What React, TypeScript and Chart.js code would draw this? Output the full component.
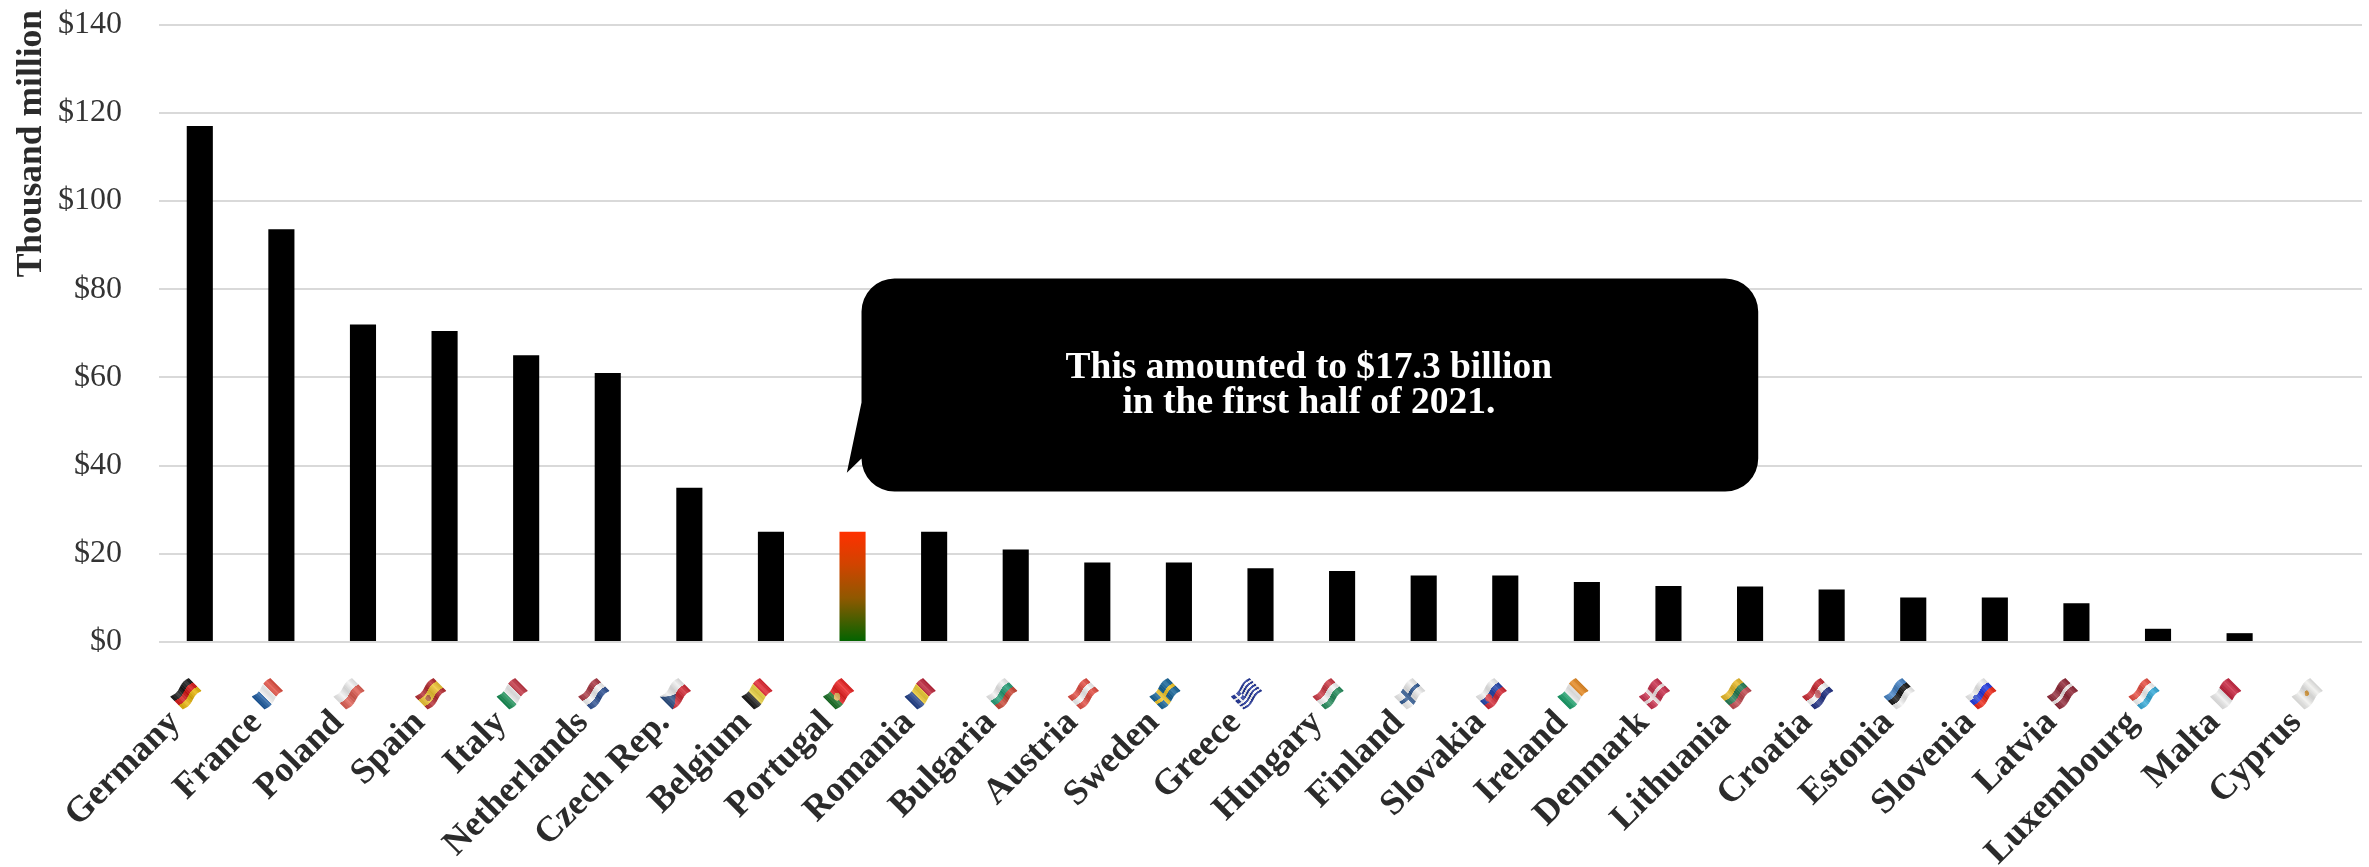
import React, { useEffect, useRef } from "react";
import { Chart, registerables } from "chart.js";

Chart.register(...registerables);

const countries = [
  "Germany", "France", "Poland", "Spain", "Italy", "Netherlands", "Czech Rep.", "Belgium", "Portugal",
  "Romania", "Bulgaria", "Austria", "Sweden", "Greece", "Hungary", "Finland", "Slovakia", "Ireland",
  "Denmark", "Lithuania", "Croatia", "Estonia", "Slovenia", "Latvia", "Luxembourg", "Malta", "Cyprus",
];
const spending = [
  117, 93.6, 72, 70.5, 65, 61, 35, 25, 25,
  25, 21, 18, 18, 16.7, 16.1, 15.1, 15.1, 13.6,
  12.7, 12.6, 11.9, 10.1, 10.1, 8.8, 3, 2, 0,
];
const highlighted = "Portugal";
const calloutLines = ["This amounted to $17.3 billion", "in the first half of 2021."];
const axisTitle = "Thousand million";

const SERIF = '"Liberation Serif", serif';

type Flag = { h?: string[]; v?: string[]; extra?: (c: CanvasRenderingContext2D, w: number, h: number) => void };

function cross(bg: string, fg: string) {
  return (c: CanvasRenderingContext2D, w: number, h: number) => {
    c.fillStyle = bg;
    c.fillRect(0, 0, w, h);
    c.fillStyle = fg;
    c.fillRect(w * 0.3, 0, w * 0.15, h);
    c.fillRect(0, h * 0.4, w, h * 0.2);
  };
}

function badge(color: string, px: number, py: number, r: number) {
  return (c: CanvasRenderingContext2D, w: number, h: number) => {
    c.fillStyle = color;
    c.beginPath();
    c.arc(w * px, h * py, h * r, 0, Math.PI * 2);
    c.fill();
  };
}

const flagDesigns: Record<string, Flag> = {
  Germany: { h: ["#111111", "#d8100f", "#e8b400"] },
  France: { v: ["#12549c", "#ffffff", "#e24a3c"] },
  Poland: { h: ["#f2f2f2", "#e05a4e"] },
  Spain: { h: ["#b5242a", "#eec22c", "#eec22c", "#b5242a"], extra: badge("#a8502a", 0.32, 0.5, 0.16) },
  Italy: { v: ["#0f8a4e", "#f5f5f5", "#c1303f"] },
  Netherlands: { h: ["#a8323e", "#f5f5f5", "#274b8f"] },
  "Czech Rep.": {
    h: ["#eeeeee", "#d0232f"],
    extra: (c, w, h) => {
      c.fillStyle = "#22477e";
      c.beginPath();
      c.moveTo(0, 0);
      c.lineTo(w * 0.5, h / 2);
      c.lineTo(0, h);
      c.fill();
    },
  },
  Belgium: { v: ["#111111", "#f6dc45", "#e2202c"] },
  Portugal: { v: ["#0f6a1c", "#ec1c1c", "#ec1c1c"], extra: badge("#e0b050", 0.38, 0.5, 0.2) },
  Romania: { v: ["#1a3a86", "#f7d334", "#bd1f36"] },
  Bulgaria: { h: ["#f0f0f0", "#1f9a72", "#c8402e"] },
  Austria: { h: ["#e2473c", "#f5f5f5", "#e2473c"] },
  Sweden: { extra: cross("#0f6096", "#f0c420") },
  Greece: {
    h: ["#1a2e96", "#fff", "#1a2e96", "#fff", "#1a2e96", "#fff", "#1a2e96", "#fff", "#1a2e96"],
    extra: (c, w, h) => {
      c.fillStyle = "#1a2e96";
      c.fillRect(0, 0, w * 0.37, h * 0.56);
      c.fillStyle = "#fff";
      c.fillRect(w * 0.15, 0, w * 0.07, h * 0.56);
      c.fillRect(0, h * 0.22, w * 0.37, h * 0.11);
    },
  },
  Hungary: { h: ["#cc3440", "#f5f5f5", "#1f8a58"] },
  Finland: { extra: cross("#f0f0f0", "#2a5590") },
  Slovakia: { h: ["#f0f0f0", "#1c3fa8", "#d3202e"], extra: badge("#d8303a", 0.32, 0.5, 0.2) },
  Ireland: { v: ["#0f9a62", "#f8f8f8", "#e5851a"] },
  Denmark: { extra: cross("#c92a48", "#f0e0e2") },
  Lithuania: { h: ["#e8b820", "#1f7a50", "#c0444a"] },
  Croatia: { h: ["#c8222c", "#f5f5f5", "#1a2a80"], extra: badge("#d86a70", 0.5, 0.5, 0.2) },
  Estonia: { h: ["#3f7fc4", "#111111", "#f4f4f4"] },
  Slovenia: { h: ["#f2f2f2", "#1c35e0", "#ee2010"], extra: badge("#2040c8", 0.27, 0.36, 0.14) },
  Latvia: { h: ["#8e2232", "#8e2232", "#f0e6e6", "#8e2232", "#8e2232"] },
  Luxembourg: { h: ["#e8483c", "#f8f8f8", "#2fa8d8"] },
  Malta: { v: ["#eeeeee", "#c8203c"] },
  Cyprus: { h: ["#f0f0ee"], extra: badge("#e0a040", 0.5, 0.45, 0.14) },
};

const FLAG_LEN = 26;
const FLAG_DEPTH = 18;

// Paints a flag flat on a scratch canvas, then shades it ready for the wave pass.
function paintFlag(design: Flag) {
  const k = 4;
  const art = document.createElement("canvas");
  art.width = FLAG_LEN * k;
  art.height = FLAG_DEPTH * k;
  const c = art.getContext("2d")!;
  const W = art.width;
  const H = art.height;
  design.h?.forEach((col, i, all) => {
    c.fillStyle = col;
    c.fillRect(0, (i * H) / all.length, W, H / all.length + 1);
  });
  design.v?.forEach((col, i, all) => {
    c.fillStyle = col;
    c.fillRect((i * W) / all.length, 0, W / all.length + 1, H);
  });
  design.extra?.(c, W, H);
  const sheen = c.createLinearGradient(0, 0, W, 0);
  sheen.addColorStop(0, "rgba(0,0,0,0.12)");
  sheen.addColorStop(0.28, "rgba(255,255,255,0.2)");
  sheen.addColorStop(0.55, "rgba(0,0,0,0.14)");
  sheen.addColorStop(0.8, "rgba(255,255,255,0.16)");
  sheen.addColorStop(1, "rgba(0,0,0,0.12)");
  c.fillStyle = sheen;
  c.fillRect(0, 0, W, H);
  return art;
}

const flagPlugin = {
  id: "countryFlags",
  afterDraw(chart: any) {
    const { ctx, scales } = chart;
    countries.forEach((name, i) => {
      const art = paintFlag(flagDesigns[name]);
      ctx.save();
      ctx.translate(scales.x.getPixelForValue(i) - 14, 694);
      ctx.rotate((-45 * Math.PI) / 180);
      const slices = FLAG_LEN;
      for (let s = 0; s < slices; s++) {
        const dy = 1.3 * Math.sin((s / slices) * Math.PI * 2);
        ctx.drawImage(
          art,
          (s / slices) * art.width, 0, art.width / slices, art.height,
          -FLAG_LEN / 2 + (s * FLAG_LEN) / slices, -FLAG_DEPTH / 2 + dy, FLAG_LEN / slices + 0.4, FLAG_DEPTH,
        );
      }
      ctx.restore();
    });
  },
};

const calloutPlugin = {
  id: "callout",
  afterDatasetsDraw(chart: any) {
    const { ctx, scales } = chart;
    const left = scales.x.getPixelForValue(8.11);
    const right = scales.x.getPixelForValue(19.1);
    const top = scales.y.getPixelForValue(82.4);
    const bottom = scales.y.getPixelForValue(34.1);
    const tipX = scales.x.getPixelForValue(7.93);
    const tipY = scales.y.getPixelForValue(38.4);
    const r = 33;
    ctx.save();
    ctx.fillStyle = "#000";
    ctx.beginPath();
    ctx.moveTo(left + r, top);
    ctx.arcTo(right, top, right, bottom, r);
    ctx.arcTo(right, bottom, left, bottom, r);
    ctx.arcTo(left, bottom, left, bottom - 35, r);
    ctx.lineTo(tipX, tipY);
    ctx.lineTo(left, top + 124);
    ctx.arcTo(left, top, right, top, r);
    ctx.closePath();
    ctx.fill();
    ctx.fillStyle = "#fff";
    ctx.font = `bold 37.5px ${SERIF}`;
    ctx.textAlign = "center";
    ctx.textBaseline = "alphabetic";
    const cx = (left + right) / 2 - 1;
    ctx.fillText(calloutLines[0], cx, 378);
    ctx.fillText(calloutLines[1], cx, 413);
    ctx.restore();
  },
};

export default function App() {
  const ref = useRef<HTMLCanvasElement>(null);
  useEffect(() => {
    const chart = new Chart(ref.current!, {
      type: "bar",
      data: {
        labels: countries,
        datasets: [
          {
            data: spending,
            barPercentage: 1,
            categoryPercentage: 0.32,
            backgroundColor: (c: any) => {
              if (countries[c.dataIndex] !== highlighted || !c.chart.chartArea) return "#000";
              const yScale = c.chart.scales.y;
              const g = c.chart.ctx.createLinearGradient(0, yScale.getPixelForValue(25), 0, yScale.getPixelForValue(0));
              g.addColorStop(0, "#ff3000");
              g.addColorStop(0.3, "#d04400");
              g.addColorStop(0.6, "#905800");
              g.addColorStop(1, "#006400");
              return g;
            },
          },
        ],
      },
      options: {
        responsive: false,
        animation: false,
        layout: { padding: { top: 10, right: 7, left: 0, bottom: 0 } },
        plugins: { legend: { display: false }, tooltip: { enabled: false } },
        scales: {
          x: {
            grid: { display: false },
            border: { display: false },
            afterFit: (s: any) => {
              s.height = 225;
              s.paddingLeft = s.paddingRight = s.paddingTop = s.paddingBottom = 0;
            },
            ticks: {
              autoSkip: false,
              minRotation: 45,
              maxRotation: 45,
              padding: 52,
              labelOffset: -25,
              color: "#2b2b2b",
              font: { family: SERIF, size: 36, weight: "bold" },
            },
          },
          y: {
            min: 0,
            max: 143.3,
            afterFit: (s: any) => {
              s.width = 159;
              s.paddingLeft = s.paddingRight = s.paddingTop = s.paddingBottom = 0;
            },
            grid: { color: "#d9d9d9", lineWidth: 2, drawTicks: false },
            border: { display: false },
            title: {
              display: true,
              text: axisTitle,
              align: "end",
              color: "#2b2b2b",
              padding: { top: 11, bottom: 0 },
              font: { family: SERIF, size: 35.5, weight: "bold" },
            },
            ticks: {
              stepSize: 20,
              includeBounds: false,
              padding: 37,
              color: "#333",
              font: { family: SERIF, size: 32 },
              callback: (v: any) => `$${v}`,
            },
          },
        },
      },
      plugins: [calloutPlugin, flagPlugin],
    } as any);
    return () => chart.destroy();
  }, []);
  return (
    <div style={{ position: "fixed", left: 0, top: 0 }}>
      <canvas ref={ref} width={2369} height={867} style={{ display: "block" }} />
    </div>
  );
}
